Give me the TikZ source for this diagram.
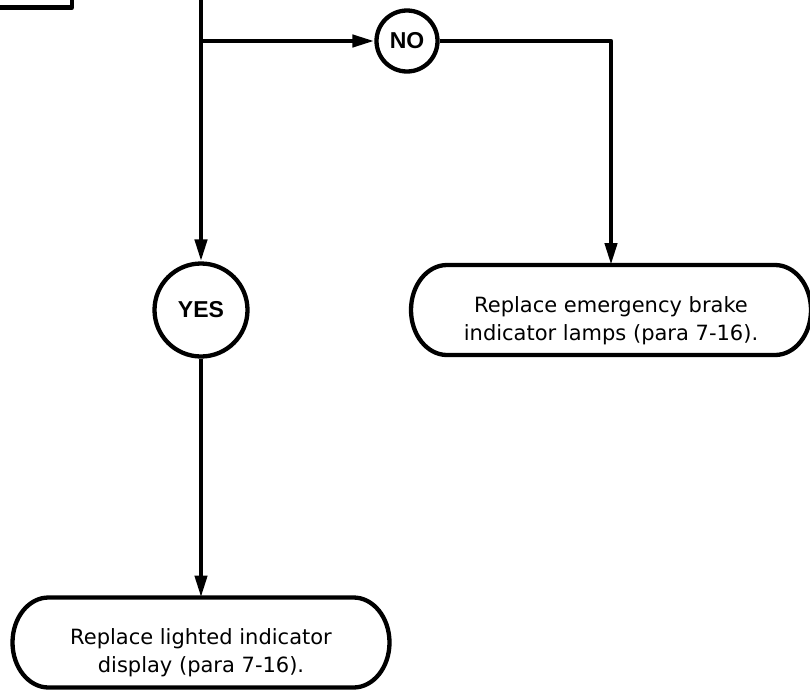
\documentclass[tikz,border=0pt]{standalone}
\usepackage{fontspec}
\setmainfont{DejaVu Sans}
\newfontfamily\answerfont{Liberation Sans}
\usepackage{tikz}
\usetikzlibrary{arrows.meta}
\tikzset{
  every picture/.style={line join=round, line cap=butt, >={Triangle[length=22pt,width=12pt]}},
  flow/.style={line width=4.3pt},
  answer/.style={circle, draw, line width=4.3pt, inner sep=0pt,
    font=\answerfont\bfseries\fontsize{23}{26}\selectfont},
  action/.style={inner sep=0pt, outer sep=0pt, minimum height=90pt, align=center,
    text height=60pt, text depth=0pt, font=\fontsize{21}{28}\selectfont},
  stepbox/.style={rectangle, draw, line width=4.3pt, minimum width=200pt, minimum height=101pt},
}
% capsule outline round an action node
\newcommand{\capsule}[1]{%
  \draw[flow] ([xshift=36pt]#1.north west) -- ([xshift=-36pt]#1.north east)
    arc[start angle=90,end angle=-90,x radius=36pt,y radius=45pt]
    -- ([xshift=36pt]#1.south west)
    arc[start angle=270,end angle=90,x radius=36pt,y radius=45pt] -- cycle;}

\begin{document}
\begin{tikzpicture}[x=1pt,y=-1pt]
\useasboundingbox (0,0) rectangle (810,691);
\clip (0,0) rectangle (810,691);
\node[stepbox] (check) at (-28,-43) {};
\coordinate (feed) at (201,-10);
\coordinate (fork) at (201,41);
\node[answer, minimum size=61pt] (no) at (407,41) {NO};
\node[answer, minimum size=93pt] (yes) at (201,310) {YES};
\node[action, minimum width=400pt] (lamps) at (611,310) {Replace emergency brake\\indicator lamps (para 7-16).};
\node[action, minimum width=377pt] (display) at (201,642.5) {Replace lighted indicator\\display (para 7-16).};
\capsule{lamps}
\capsule{display}
\draw[flow,->] (feed) -- (yes);
\draw[flow,->] (fork) -- (no);
\draw[flow,->] (no) -| (lamps);
\draw[flow,->] (yes) -- (display);
\end{tikzpicture}
\end{document}
